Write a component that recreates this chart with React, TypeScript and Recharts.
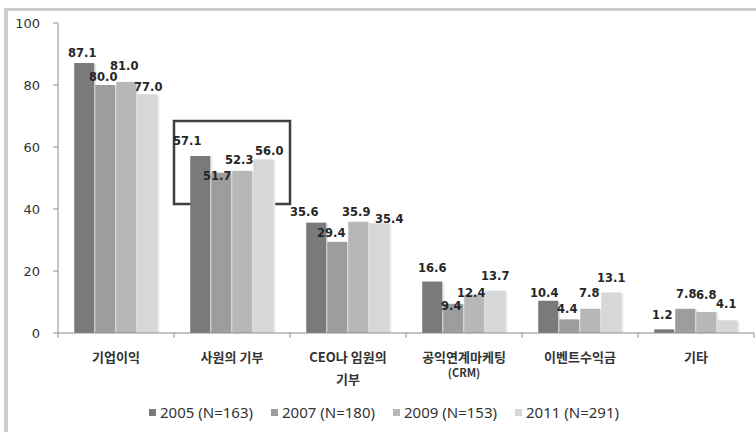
import React from 'react';
import { BarChart, Bar, XAxis, YAxis, Legend, LabelList, ReferenceArea } from 'recharts';

const CATEGORIES = ['기업이익', '사원의 기부', 'CEO나 임원의\n기부', '공익연계마케팅\n(CRM)', '이벤트수익금', '기타'];
const SERIES_NAMES = ['2005 (N=163)', '2007 (N=180)', '2009 (N=153)', '2011 (N=291)'];
const V2005 = [87.1, 57.1, 35.6, 16.6, 10.4, 1.2];
const V2007 = [80.0, 51.7, 29.4, 9.4, 4.4, 7.8];
const V2009 = [81.0, 52.3, 35.9, 12.4, 7.8, 6.8];
const V2011 = [77.0, 56.0, 35.4, 13.7, 13.1, 4.1];
const Y_TICKS = [0, 20, 40, 60, 80, 100];

const COLORS = ['#7a7a7a', '#9d9d9d', '#b7b7b7', '#d7d7d7'];
const KEYS = ['s2005', 's2007', 's2009', 's2011'];

// label nudges [dx, dy] like the hand-placed Excel labels
const LABEL_NUDGE: number[][][] = [
  [[-2, 0], [-13, -5], [-12, -1], [0, -4], [-4, 2], [-2, -4]],
  [[-2, 2], [-4, 13], [-6, 1], [-2, 12], [-2, 0], [1, -5]],
  [[-2, -6], [-3, -1], [-2, 0], [-3, 8], [-1, -6], [0, -7]],
  [[1, 3], [6, 2], [10, 6], [0, -5], [0, -4], [-1, -6]],
];

const data = CATEGORIES.map((name, i) => ({
  name,
  s2005: V2005[i],
  s2007: V2007[i],
  s2009: V2009[i],
  s2011: V2011[i],
}));

const makeLabel = (si: number) => (props: any) => {
  const { x, y, width, value, index } = props;
  const [dx, dy] = LABEL_NUDGE[si][index] || [0, 0];
  return (
    <text
      x={Number(x) + Number(width) / 2 + dx}
      y={Number(y) - 10 + dy}
      textAnchor="middle"
      dominantBaseline="central"
      fontFamily="DejaVu Sans"
      fontWeight="bold"
      fontSize={11.5}
      fill="#262626"
    >
      {Number(value).toFixed(1)}
    </text>
  );
};

const ShadowBar = (props: any) => {
  const { x, y, width, height, fill } = props;
  if (!height || height <= 0) return null;
  return (
    <g>
      <rect x={x + width - 1} y={y + 1} width={3} height={height - 1} fill="#e6e6e6" />
      <rect x={x} y={y} width={width} height={height} fill={fill} />
    </g>
  );
};

const CategoryTick = (props: any) => {
  const { x, y, payload, index, visibleTicksCount } = props;
  const half = payload && payload.offset ? payload.offset : 58;
  const lines = String(payload.value).split('\n');
  const isLast = index === visibleTicksCount - 1;
  return (
    <g>
      <line x1={x - half} y1={y} x2={x - half} y2={y + 5} stroke="#8c8c8c" />
      {isLast && <line x1={x + half} y1={y} x2={x + half} y2={y + 5} stroke="#8c8c8c" />}
      {lines.map((ln, i) => (
        <text
          key={i}
          x={x}
          y={y + 23 + i * (ln.startsWith('(') ? 16 : 22)}
          textAnchor="middle"
          dominantBaseline="central"
          fontFamily="Noto Sans CJK KR"
          fontWeight="bold"
          fontSize={ln.startsWith('(') ? 11 : 13}
          fill="#333333"
        >
          {ln}
        </text>
      ))}
    </g>
  );
};

const LegendContent = () => (
  <div style={{ display: 'flex', justifyContent: 'center', height: 20, alignItems: 'center', paddingLeft: 14 }}>
    {SERIES_NAMES.map((n, i) => (
      <div key={n} style={{ display: 'flex', alignItems: 'center', width: i < SERIES_NAMES.length - 1 ? 122 : 'auto' }}>
        <span style={{ display: 'inline-block', width: 7, height: 7, background: COLORS[i], marginRight: 4 }} />
        <span style={{ fontFamily: 'Noto Sans', fontSize: 15, color: '#333333', whiteSpace: 'nowrap' }}>{n}</span>
      </div>
    ))}
  </div>
);

export default function App() {
  return (
    <div style={{ position: 'absolute', left: 0, top: 0, width: 756, height: 432, background: '#ffffff', overflow: 'hidden' }}>
      <div
        style={{
          position: 'absolute',
          left: 4,
          top: 8,
          width: 760,
          height: 430,
          borderTop: '3px solid #cdcdcd',
          borderLeft: '4px solid #cdcdcd',
        }}
      />
      <div style={{ position: 'absolute', left: 0, top: 0 }}>
        <BarChart
          width={756}
          height={432}
          data={data}
          margin={{ top: 23, right: 2, bottom: 10, left: 0 }}
          barCategoryGap="14%"
          barGap={1}
        >
          <YAxis
            type="number"
            domain={[0, 100]}
            ticks={Y_TICKS}
            width={58}
            tickSize={5}
            tickMargin={13}
            axisLine={{ stroke: '#8c8c8c' }}
            tickLine={{ stroke: '#8c8c8c' }}
            tick={{ fontFamily: 'DejaVu Sans', fontSize: 13, fill: '#333333' }}
          />
          <XAxis
            dataKey="name"
            height={69}
            interval={0}
            tickSize={0}
            tickMargin={0}
            tickLine={false}
            axisLine={{ stroke: '#8c8c8c' }}
            tick={<CategoryTick />}
          />
          <Legend verticalAlign="bottom" content={<LegendContent />} />
          {KEYS.map((k, i) => (
            <Bar key={k} dataKey={k} name={SERIES_NAMES[i]} fill={COLORS[i]} shape={<ShadowBar />} isAnimationActive={false}>
              <LabelList dataKey={k} content={makeLabel(i)} />
            </Bar>
          ))}
          <ReferenceArea
            x1={CATEGORIES[1]}
            x2={CATEGORIES[1]}
            y1={41.6}
            y2={68.4}
            fill="none"
            fillOpacity={0}
            stroke="#404040"
            strokeWidth={2.5}
            ifOverflow="visible"
          />
        </BarChart>
      </div>
    </div>
  );
}
